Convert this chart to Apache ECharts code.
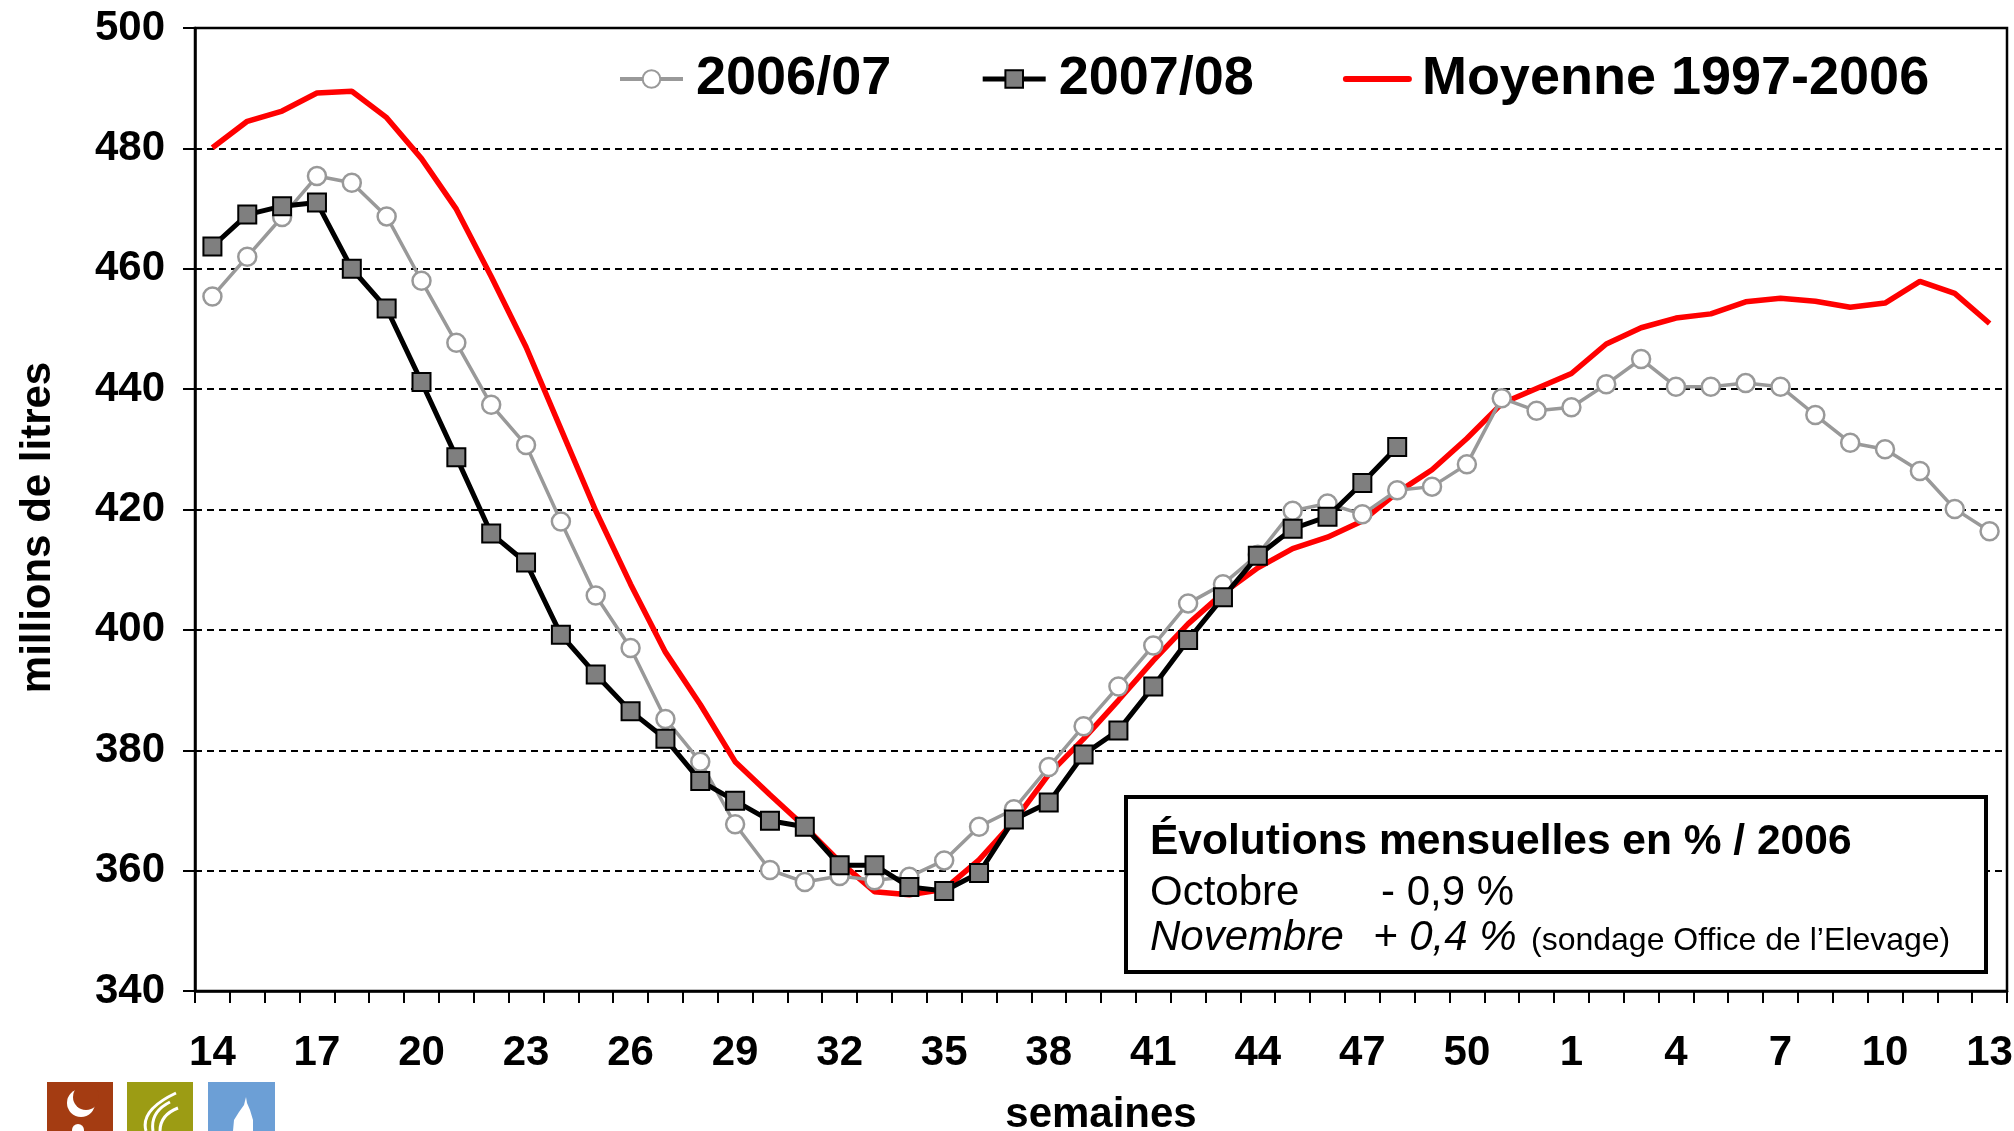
<!DOCTYPE html>
<html><head><meta charset="utf-8">
<script src="https://cdn.jsdelivr.net/npm/echarts@6/dist/echarts.min.js"></script>
<style>html,body{margin:0;padding:0;background:#fff}#c{width:2014px;height:1131px}</style>
</head><body><div id="c"></div>
<script>
// Week categories (week 14 of one year to week 13 of the next)
const weeks = ['14','15','16','17','18','19','20','21','22','23','24','25','26','27','28','29','30','31','32','33','34','35','36','37','38','39','40','41','42','43','44','45','46','47','48','49','50','51','52','1','2','3','4','5','6','7','8','9','10','11','12','13'];

const seriesNames = ['2006/07', '2007/08', 'Moyenne 1997-2006'];

// 2006/07 (grey circles)
const s2006 = [455.4,462.0,468.6,475.4,474.3,468.7,458.0,447.7,437.4,430.7,418.0,405.7,397.0,385.2,378.1,367.7,360.1,358.1,359.1,358.4,359.0,361.7,367.3,370.2,377.2,384.0,390.6,397.4,404.4,407.6,412.5,419.8,421.0,419.2,423.2,423.8,427.5,438.5,436.4,437.0,440.8,445.0,440.4,440.4,441.0,440.4,435.7,431.1,430.0,426.4,420.1,416.4];

// 2007/08 (black squares), weeks 14 to 48
const s2007 = [463.7,469.0,470.4,471.0,460.0,453.4,441.2,428.7,416.0,411.2,399.2,392.6,386.5,381.9,374.9,371.6,368.3,367.3,360.9,360.9,357.3,356.6,359.6,368.5,371.3,379.3,383.3,390.6,398.3,405.4,412.3,416.8,418.8,424.4,430.4];

// Moyenne 1997-2006 (red line)
const sMoy = [480.1,484.5,486.2,489.2,489.5,485.1,478.3,469.9,458.7,447.0,433.4,419.8,407.6,396.3,387.6,378.1,372.6,367.3,361.5,356.5,356.0,356.9,361.8,368.2,376.0,381.9,388.3,394.9,401.0,406.1,410.3,413.5,415.4,418.1,422.8,426.6,431.8,437.6,440.1,442.6,447.5,450.2,451.8,452.5,454.5,455.1,454.6,453.6,454.3,457.9,455.9,450.9];

const yMin = 340, yMax = 500, yStep = 20;
const yTitle = 'millions de litres';
const xTitle = 'semaines';

const boxTitle = 'Évolutions mensuelles en % / 2006';
const boxLine1 = ['Octobre', '- 0,9 %'];
const boxLine2 = ['Novembre', '+ 0,4 %', '(sondage Office de l’Elevage)'];

const FF = '"Liberation Sans", Arial, sans-serif';

const chart = echarts.init(document.getElementById('c'), null, {renderer: 'canvas'});

const option = {
  backgroundColor: '#fff',
  animation: false,
  textStyle: {fontFamily: FF},
  grid: {left: 195, right: 7, top: 28, bottom: 140, outerBoundsMode: 'none', containLabel: false,
    show: true, borderColor: '#000', borderWidth: 2.5, backgroundColor: 'transparent'},
  legend: {
    data: [
      {name: seriesNames[0], lineStyle: {width: 4}},
      {name: seriesNames[1], lineStyle: {width: 5}},
      {name: seriesNames[2], itemStyle: {opacity: 0}, lineStyle: {width: 6, cap: 'round'}}
    ],
    left: 613, top: 47,
    itemWidth: 63, itemHeight: 22, itemGap: 89,
    textStyle: {fontFamily: FF, fontSize: 54, fontWeight: 'bold', color: '#000', padding: [0, 0, 0, 8]}
  },
  xAxis: {
    type: 'category',
    data: weeks,
    boundaryGap: true,
    name: xTitle,
    nameLocation: 'middle',
    nameGap: 103,
    nameTextStyle: {fontFamily: FF, fontSize: 42, fontWeight: 'bold', color: '#000'},
    axisLine: {lineStyle: {color: '#000', width: 2.5}},
    axisTick: {show: true, interval: 0, length: 12, lineStyle: {color: '#000', width: 2}},
    axisLabel: {interval: 2, margin: 41, fontFamily: FF, fontSize: 42, fontWeight: 'bold', color: '#000'},
    splitLine: {show: false}
  },
  yAxis: {
    type: 'value',
    min: yMin, max: yMax, interval: yStep,
    name: yTitle,
    nameLocation: 'middle',
    nameRotate: 90,
    nameGap: 136,
    nameTextStyle: {fontFamily: FF, fontSize: 42, fontWeight: 'bold', color: '#000', padding: [0, 36, 0, 0]},
    axisLine: {show: true, lineStyle: {color: '#000', width: 2.5}},
    axisTick: {show: true, length: 12, lineStyle: {color: '#000', width: 2}},
    axisLabel: {margin: 30, fontFamily: FF, fontSize: 42, fontWeight: 'bold', color: '#000'},
    splitLine: {show: true, lineStyle: {color: '#000', width: 2, type: [7, 5]}}
  },
  series: [
    {
      name: seriesNames[2], type: 'line', data: sMoy, z: 2,
      symbol: 'none', smooth: false,
      lineStyle: {color: '#ff0000', width: 5.5},
      itemStyle: {color: '#ff0000'}
    },
    {
      name: seriesNames[0], type: 'line', data: s2006, z: 3,
      symbol: 'circle', symbolSize: 18,
      lineStyle: {color: '#999999', width: 3.5},
      itemStyle: {color: '#ffffff', borderColor: '#999999', borderWidth: 2.5}
    },
    {
      name: seriesNames[1], type: 'line', data: s2007, z: 4,
      symbol: 'rect', symbolSize: 18,
      lineStyle: {color: '#000000', width: 5},
      itemStyle: {color: '#7f7f7f', borderColor: '#000000', borderWidth: 2}
    }
  ],
  graphic: [
    {type: 'rect', z: 100, shape: {x: 1126, y: 797, width: 860, height: 175},
      style: {fill: '#fff', stroke: '#000', lineWidth: 4}},
    {type: 'text', z: 101, x: 1150, y: 842, style: {text: boxTitle, font: 'bold 42.5px ' + FF, fill: '#000', verticalAlign: 'middle'}},
    {type: 'text', z: 101, x: 1150, y: 893, style: {text: boxLine1[0], font: '42px ' + FF, fill: '#000', verticalAlign: 'middle'}},
    {type: 'text', z: 101, x: 1381, y: 893, style: {text: boxLine1[1], font: '42px ' + FF, fill: '#000', verticalAlign: 'middle'}},
    {type: 'text', z: 101, x: 1150, y: 938, style: {text: boxLine2[0], font: 'italic 42px ' + FF, fill: '#000', verticalAlign: 'middle'}},
    {type: 'text', z: 101, x: 1373, y: 938, style: {text: boxLine2[1], font: 'italic 42px ' + FF, fill: '#000', verticalAlign: 'middle'}},
    {type: 'text', z: 101, x: 1531, y: 941, style: {text: boxLine2[2], font: '32px ' + FF, fill: '#000', verticalAlign: 'middle'}},
    // logo tiles
    {type: 'rect', z: 100, shape: {x: 47, y: 1082, width: 66, height: 60}, style: {fill: '#a43c12'}},
    {type: 'circle', z: 101, shape: {cx: 81, cy: 1103, r: 14}, style: {fill: '#fff'}},
    {type: 'circle', z: 102, shape: {cx: 86, cy: 1097, r: 13}, style: {fill: '#a43c12'}},
    {type: 'circle', z: 101, shape: {cx: 78, cy: 1130, r: 6}, style: {fill: '#fff'}},
    {type: 'rect', z: 100, shape: {x: 127, y: 1082, width: 66, height: 60}, style: {fill: '#9c9c14'}},
    {type: 'bezierCurve', z: 101, shape: {x1: 146, y1: 1131, x2: 176, y2: 1093, cpx1: 140, cpy1: 1110}, style: {stroke: '#fff', lineWidth: 3, fill: null}},
    {type: 'bezierCurve', z: 101, shape: {x1: 153, y1: 1131, x2: 170, y2: 1102, cpx1: 150, cpy1: 1112}, style: {stroke: '#fff', lineWidth: 3, fill: null}},
    {type: 'bezierCurve', z: 101, shape: {x1: 160, y1: 1131, x2: 178, y2: 1108, cpx1: 160, cpy1: 1115}, style: {stroke: '#fff', lineWidth: 3, fill: null}},
    {type: 'rect', z: 100, shape: {x: 208, y: 1082, width: 67, height: 60}, style: {fill: '#6c9fd6'}},
    {type: 'polygon', z: 101, shape: {points: [[246,1097],[244,1105],[239,1112],[234,1120],[233,1131],[253,1131],[253,1120],[250,1110],[247,1103]]}, style: {fill: '#fff'}}
  ]
};
chart.setOption(option);
</script>
</body></html>
